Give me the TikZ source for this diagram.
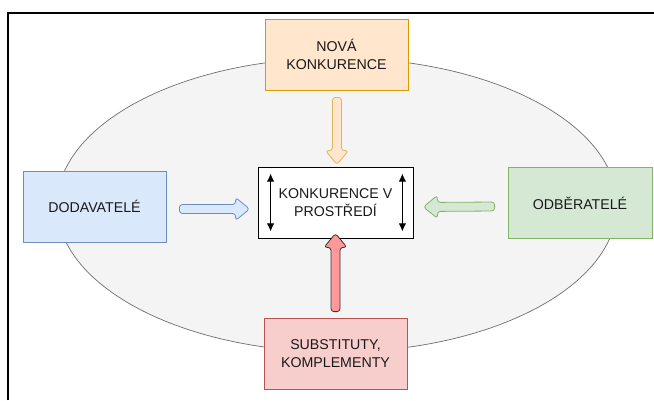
\documentclass[tikz,border=0pt]{standalone}
\usepackage{fontspec}
\setmainfont{Liberation Sans}
\usetikzlibrary{arrows.meta, calc, positioning}
\definecolor{ovalfill}{HTML}{F4F4F4}
\definecolor{ovaldraw}{HTML}{6F6F6F}
\definecolor{orfill}{HTML}{FFE6CC}
\definecolor{ordraw}{HTML}{D79B00}
\definecolor{orarrow}{HTML}{E2B45A}
\definecolor{blfill}{HTML}{DAE8FC}
\definecolor{bldraw}{HTML}{6C8EBF}
\definecolor{grfill}{HTML}{D5E8D4}
\definecolor{grdraw}{HTML}{82B366}
\definecolor{rdfill}{HTML}{F8CECC}
\definecolor{rddraw}{HTML}{B85450}
\definecolor{rdarrow}{HTML}{FF9999}
\newcommand{\fatarrow}[3]{%
  \draw[#1] ($(#2)!4.5pt!90:(#3)$) -- ($(#3)!14pt!(#2)!4.5pt!-90:(#2)$)
    -- ($(#3)!14pt!(#2)!11.5pt!-90:(#2)$) -- (#3)
    -- ($(#3)!14pt!(#2)!11.5pt!90:(#2)$) -- ($(#3)!14pt!(#2)!4.5pt!90:(#2)$)
    -- ($(#2)!4.5pt!-90:(#3)$) -- cycle;}
\tikzset{
  align=center,
  box/.style={draw, line width=0.8pt, minimum width=143pt, minimum height=71pt, inner sep=2pt, text=black!90, font=\fontsize{14.2}{17.5}\selectfont},
  frame/.style={line width=1.2pt, black},
  oval/.style={draw=ovaldraw, fill=ovalfill, line width=0.7pt},
  fat/.style={line width=0.8pt, rounded corners=3pt},
  updown/.style={{Latex[length=8pt,width=7.5pt]}-{Latex[length=8pt,width=7.5pt]}, line width=1.1pt}
}
\begin{document}
\begin{tikzpicture}[x=1pt,y=-1pt]
  \useasboundingbox (0,0) rectangle (654,400);
  \draw[frame] (8,400) -- (8,13) -- (654,13);
  \draw[oval] (337,205) ellipse [x radius=280pt, y radius=147pt];

  \node[box, fill=orfill, draw=ordraw] (nova) at (336.5,54.5) {NOVÁ\\KONKURENCE};
  \node[box, fill=blfill, draw=bldraw] (dodav) at (94.5,206.5) {DODAVATELÉ};
  \node[box, fill=grfill, draw=grdraw, minimum width=144pt] (odber) at (580,203) {ODBĚRATELÉ};
  \node[box, fill=rdfill, draw=rddraw] (subst) at (335.5,353.5) {SUBSTITUTY,\\KOMPLEMENTY};
  \node[box, fill=white, draw=black, minimum width=155pt] (konk) at (335.5,202.5) {KONKURENCE V\\PROSTŘEDÍ};

  \coordinate (t1) at ($(nova.south)+(0.5,7)$);
  \coordinate (t2) at ($(konk.north)+(1.5,-2)$);
  \coordinate (b1) at ($(subst.north)+(0,-6)$);
  \coordinate (b2) at ($(konk.south)+(0,-5)$);
  \coordinate (l1) at ($(dodav.east)+(13,2.5)$);
  \coordinate (l2) at ($(konk.west)+(-8,6.5)$);
  \coordinate (r1) at ($(odber.west)+(-13,3.5)$);
  \coordinate (r2) at ($(konk.east)+(10,4.5)$);
  \coordinate (a1) at ($(konk.north west)+(13,7)$);
  \coordinate (a2) at ($(konk.south west)+(13,-7)$);
  \coordinate (a3) at ($(konk.north east)+(-11,7)$);
  \coordinate (a4) at ($(konk.south east)+(-11,-7)$);

  \fatarrow{fat, fill=orfill, draw=orarrow}{t1}{t2}
  \fatarrow{fat, fill=rdarrow, draw=black!80}{b1}{b2}
  \fatarrow{fat, fill=blfill, draw=bldraw}{l1}{l2}
  \fatarrow{fat, fill=grfill, draw=grdraw}{r1}{r2}

  \draw[updown] (a1) -- (a2);
  \draw[updown] (a3) -- (a4);
\end{tikzpicture}
\end{document}
